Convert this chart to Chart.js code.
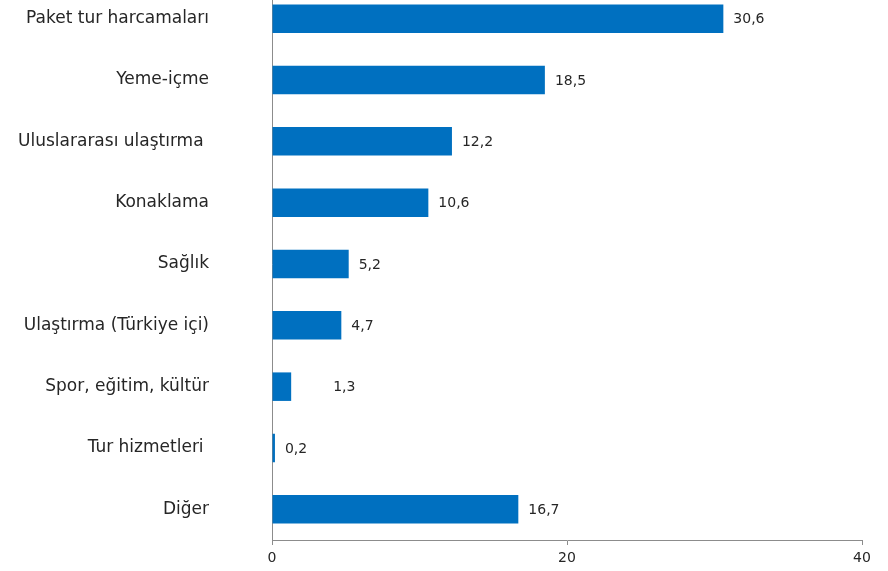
<!DOCTYPE html>
<html lang="tr">
<head>
<meta charset="utf-8">
<title>Harcama türleri</title>
<script src="https://cdn.jsdelivr.net/npm/chart.js@4/dist/chart.umd.min.js"></script>
<style>
    html, body { margin: 0; padding: 0; background: #fff; overflow: hidden; }
    #spendChart { position: absolute; left: 0; top: -12px; }
</style>
</head>
<body>
<canvas id="spendChart" width="888" height="585"></canvas>
<script>
// Harcama kalemleri ve paylari (%)
const categories = [
    'Paket tur harcamaları',
    'Yeme-içme',
    'Uluslararası ulaştırma ',
    'Konaklama',
    'Sağlık',
    'Ulaştırma (Türkiye içi)',
    'Spor, eğitim, kültür',
    'Tur hizmetleri ',
    'Diğer'
];
const shares = [30.6, 18.5, 12.2, 10.6, 5.2, 4.7, 1.3, 0.2, 16.7];
const xTicks = [0, 20, 40];

const fontFamily = '"DejaVu Sans", Verdana, sans-serif';
const textColor = '#262626';
const axisColor = '#8c8c8c';

// Writes the value next to the end of each bar, "30,6" style
const valueLabels = {
    id: 'valueLabels',
    afterDatasetsDraw(chart) {
        const ctx = chart.ctx;
        const meta = chart.getDatasetMeta(0);
        ctx.save();
        ctx.font = '14px ' + fontFamily;
        ctx.fillStyle = textColor;
        ctx.textAlign = 'left';
        ctx.textBaseline = 'middle';
        meta.data.forEach((bar, i) => {
            const txt = shares[i].toFixed(1).replace('.', ',');
            // the 1,3 label sits further out than the rest
            const gap = i === 6 ? 42 : 10;
            ctx.fillText(txt, bar.x + gap, bar.y + 1);
        });
        ctx.restore();
    }
};

new Chart(document.getElementById('spendChart'), {
    type: 'bar',
    data: {
        labels: categories,
        datasets: [{
            data: shares,
            backgroundColor: '#0070c0',
            borderWidth: 0,
            barPercentage: 0.465,
            categoryPercentage: 1
        }]
    },
    options: {
        indexAxis: 'y',
        responsive: false,
        animation: false,
        layout: { padding: { left: 0, right: 26, top: 0, bottom: 0 } },
        plugins: {
            legend: { display: false },
            tooltip: { enabled: false }
        },
        scales: {
            x: {
                min: 0,
                max: 40,
                afterBuildTicks(scale) {
                    scale.ticks = xTicks.map(v => ({ value: v }));
                },
                afterFit(scale) { scale.height = 33; },
                grid: {
                    drawOnChartArea: false,
                    drawTicks: true,
                    tickLength: 5,
                    color: axisColor
                },
                border: { display: true, color: axisColor, width: 1 },
                ticks: {
                    padding: 5,
                    color: textColor,
                    font: { family: fontFamily, size: 14 }
                }
            },
            y: {
                afterFit(scale) {
                    // wide label gutter, but no extra room above/below the bars
                    scale.width = 272;
                    scale.paddingTop = 0;
                    scale.paddingBottom = 0;
                },
                grid: { display: false, drawTicks: false },
                border: { display: true, color: axisColor, width: 1 },
                ticks: {
                    padding: 63,
                    color: textColor,
                    font: { family: fontFamily, size: 17 }
                }
            }
        }
    },
    plugins: [valueLabels]
});
</script>
</body>
</html>
